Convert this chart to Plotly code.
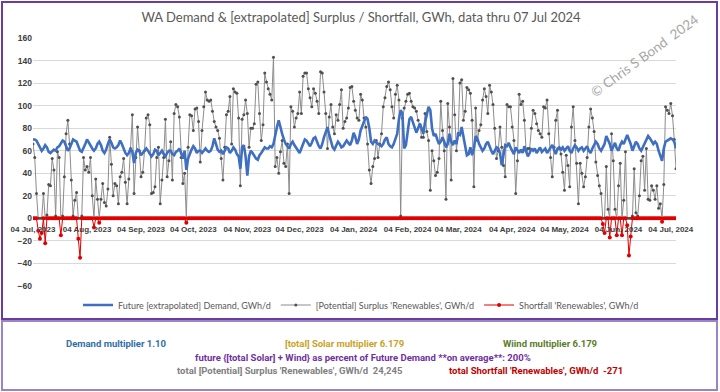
import pandas as pd
import plotly.graph_objects as go

# ---------------- data (daily, 04 Jul 2023 .. 07 Jul 2024) ----------------
start_date = "2023-07-04"
n_days = 370
dates = pd.date_range(start_date, periods=n_days, freq="D")

surplus = [
    66, 54, 22, 0, 0, 0, 22, 0, 3, 30,
    29, 53, 43, 2, 59, 54, 0, 2, 37, 75,
    87, 66, 34, 2, 16, 23, 0, 0, 2, 54,
    43, 46, 41, 54, 20, 0, 35, 17, 0, 17,
    31, 14, 11, 26, 72, 48, 20, 31, 29, 13,
    37, 41, 53, 32, 13, 35, 62, 92, 22, 54,
    81, 60, 37, 41, 60, 89, 92, 83, 22, 23,
    28, 54, 63, 13, 34, 54, 88, 37, 51, 68,
    34, 93, 101, 99, 90, 54, 31, 40, 0, 63,
    92, 91, 78, 97, 98, 86, 50, 78, 99, 112,
    105, 104, 105, 95, 86, 81, 78, 71, 53, 34,
    63, 92, 95, 108, 66, 115, 112,
    111, 89, 29, 88, 92, 105, 93, 63, 80, 80,
    84, 119, 121, 93, 69, 83, 129, 121, 115, 110,
    105, 143, 46, 54, 40, 59, 69, 49, 46, 66,
    22, 99, 95, 81, 89, 93, 112, 93, 126, 129,
    129, 115, 107, 99, 115, 111, 104, 93, 130, 129,
    112, 93, 62, 90, 101, 81, 75, 92, 87, 101,
    114, 80, 86, 89, 98, 116, 117, 104, 96, 89,
    87, 110, 105, 89, 81, 66, 43, 31, 46, 53,
    69, 54, 66, 75, 99, 107, 117, 121, 114, 99,
    89, 110, 118, 105, 2, 89, 98, 104, 110, 111,
    104, 99, 98, 95, 87, 83, 72, 72, 93, 77,
    69, 25, 60, 51, 38, 41, 53, 104, 78, 60,
    17,
    102, 81, 34, 124, 92, 60, 75, 120, 123, 87,
    95, 116, 114, 111, 87, 28, 98, 69, 78, 83,
    105, 115, 108, 93, 118, 112, 101, 80, 53, 60,
    81, 63, 47, 37, 101, 99, 99, 81, 69, 22,
    51, 110, 101, 104, 87, 60, 62, 62, 80, 96,
    93, 84, 78, 75, 72, 99, 98, 105, 75, 54,
    37, 63, 87, 96, 62, 57, 41, 25, 56, 47,
    28, 81, 99, 69, 49, 13, 49, 40, 28, 37,
    54, 81, 97, 89, 77, 50, 38, 29,
    22, 0, 0, 46, 8, 0, 75, 51, 8, 0,
    29, 49, 0, 16, 59, 0, 0, 0, 2, 44,
    5, 2, 20, 51, 55, 25, 62, 17, 16,
    29, 25, 17, 29, 9, 13, 0, 30, 99, 96,
    93, 102, 91, 70, 44,
]

# shortfall: day index -> value (all other days 0)
shortfall_days = [3, 4, 5, 7, 16, 26, 27, 35, 38, 88,
                  327, 328, 331, 335, 338, 341, 342, 343, 361]
shortfall_vals = [-11, -18, -13, -22, -15, -18, -35, -8, -4, -4,
                  -5, -13, -17, -15, -15, -6, -33, -16, -3]

demand = [
    70, 70, 69, 66, 62, 60, 62,
    65, 63, 59, 58, 60, 61, 60,
    63, 64, 67, 69, 68, 64, 60,
    62, 66, 70, 69, 68, 64, 60,
    59, 62, 66, 70, 67, 64, 62,
    60, 62, 66, 68, 65, 60, 58,
    61, 66, 70, 67, 63, 62, 63,
    65, 69, 66, 62, 58, 56, 58,
    62, 59, 49, 58, 61, 60, 56,
    58, 61, 62, 60, 58, 55, 57,
    61, 60, 56, 58, 60, 57, 55,
    58, 60, 60, 57, 56, 59, 60,
    62, 58, 53, 60, 43, 53, 58,
    61, 64, 62, 58, 60, 60, 58,
    60, 62, 60, 59, 60, 64, 71,
    66, 61, 59, 60, 57, 60, 63,
    62, 58, 60, 63, 61, 57, 55,
    44, 63, 65, 55, 38, 55, 60,
    58, 55, 53, 52, 56, 58, 60,
    63, 62, 62, 64, 63, 66, 75,
    81, 87, 80, 75, 70, 66, 64,
    62, 66, 68, 65, 63, 61, 58,
    62, 67, 70, 69, 66, 64, 67,
    71, 72, 68, 64, 62, 66, 72,
    76, 81, 74, 68, 63, 61, 64,
    68, 66, 63, 64, 67, 69, 67,
    65, 69, 76, 72, 66, 70, 78,
    82, 87, 90, 88, 80, 68, 66,
    69, 67, 66, 65, 64, 66, 70,
    72, 66, 64, 63, 66, 70, 75,
    88, 96, 93, 62, 65, 75, 88,
    90, 85, 79, 76, 80, 84, 80,
    75, 85, 93, 99, 96, 80, 73,
    75, 70, 66, 68, 72, 68, 63,
    66, 75, 68, 65, 69, 66, 75,
    74, 81, 72, 66, 56, 57, 63,
    56, 62, 73, 71, 66, 63, 60,
    62, 66, 68, 63, 60, 57, 60,
    63, 62, 58, 47, 56, 65, 64,
    67, 63, 60, 57, 63, 60, 58,
    61, 58, 64, 60, 55, 58, 62,
    60, 62, 58, 61, 63, 59, 61,
    62, 58, 60, 62, 65, 61, 57,
    62, 63, 61, 63, 60, 62, 64,
    60, 58, 62, 65, 63, 60, 62,
    63, 60, 62, 64, 60, 58, 62,
    65, 68, 66, 62, 60, 63, 66,
    73, 70, 66, 60, 64, 67, 62,
    60, 65, 68, 66, 70, 74, 70,
    66, 60, 64, 68, 66, 62, 60,
    63, 66, 70, 73, 71, 68, 66,
    68, 66, 60, 56, 51, 62, 68,
    69, 70, 71, 70, 68, 62,
]

shortfall = [0] * n_days
for d, v in zip(shortfall_days, shortfall_vals):
    shortfall[d] = v

tick_dates = pd.date_range("2023-07-04", "2024-07-04", freq=pd.DateOffset(months=1))

title_text = "WA Demand & [extrapolated] Surplus / Shortfall, GWh, data thru 07 Jul 2024"
series_names = ["Future [extrapolated] Demand, GWh/d",
                "[Potential] Surplus 'Renewables', GWh/d",
                "Shortfall 'Renewables', GWh/d"]

# ---------------- figure ----------------
W, H = 720, 392
L, R, T, B = 33, 44, 38, 106
pw, ph = W - L - R, H - T - B


def px_x(x):
    return (x - L) / pw


def px_y(y):
    return (H - B - y) / ph


fig = go.Figure()

fig.add_trace(go.Scatter(
    x=dates, y=surplus, name=series_names[1], mode="lines+markers",
    line=dict(color="#8c8c8c", width=1),
    marker=dict(color="#505050", size=3),
    legendrank=2,
))
fig.add_trace(go.Scatter(
    x=dates, y=shortfall, name=series_names[2], mode="lines+markers",
    line=dict(color="#e00000", width=1),
    marker=dict(color="#e00000", size=4),
    legendrank=3,
))
fig.add_trace(go.Scatter(
    x=dates, y=demand, name=series_names[0], mode="lines",
    line=dict(color="#3f6fc0", width=2.6),
    legendrank=1,
))

fig.update_layout(
    width=W, height=H,
    margin=dict(l=L, r=R, t=T, b=B),
    paper_bgcolor="white", plot_bgcolor="white",
    title=dict(text=title_text, x=px_x(361), xref="paper", xanchor="center",
               y=1 - 17 / H, yanchor="middle",
               font=dict(family="Lato", size=13, color="#595959")),
    showlegend=True,
    legend=dict(orientation="h", x=px_x(361), xanchor="center", y=px_y(305), yanchor="middle",
                font=dict(family="Lato", size=9, color="#595959"),
                itemwidth=30, traceorder="normal", bgcolor="rgba(0,0,0,0)"),
    xaxis=dict(type="date", range=[dates[0], dates[-1]],
               tickvals=tick_dates, tickformat="%d %b, %Y",
               anchor="free", position=60 / 220,
               showgrid=False, showline=False, zeroline=False, ticks="",
               ticklabelstandoff=5,
               tickfont=dict(family="Liberation Sans", size=8, color="#404040", weight="bold")),
    yaxis=dict(range=[-60, 160], dtick=20, showgrid=True, gridcolor="#d9d9d9", gridwidth=1,
               zeroline=False, showline=False, ticks="",
               tickfont=dict(family="Liberation Sans", size=8.5, color="#404040", weight="bold")),
)

# frames
fig.add_shape(type="rect", xref="paper", yref="paper",
              x0=px_x(2), x1=px_x(717), y0=px_y(319), y1=px_y(2),
              line=dict(color="#6a3d9a", width=2), layer="above")
fig.add_shape(type="rect", xref="paper", yref="paper",
              x0=px_x(2), x1=px_x(717), y0=px_y(390), y1=px_y(321),
              line=dict(color="#9b84c6", width=2), layer="above")

# watermark
fig.add_annotation(text="© Chris S Bond  2024", xref="paper", yref="paper",
                   x=px_x(644), y=px_y(56), showarrow=False, textangle=-36,
                   xanchor="center", yanchor="middle",
                   font=dict(family="Lato", size=13.5, color="#a6a6a6"))

# bottom info box text
info_font = "Roboto"
info = [
    ("Demand multiplier 1.10", 116, 343, "#2f6ea5"),
    ("[total] Solar multiplier 6.179", 344, 343, "#c9a227"),
    ("Wiind multiplier 6.179", 550, 343, "#5a7d2a"),
    ("future {[total Solar] + Wind} as percent of Future Demand **on average**: 200%", 363, 357, "#7030a0"),
    ("total [Potential] Surplus 'Renewables', GWh/d  24,245", 290, 370, "#808080"),
    ("total Shortfall 'Renewables', GWh/d  -271", 536, 370, "#c00000"),
]
for txt, x, y, col in info:
    fig.add_annotation(text=txt, xref="paper", yref="paper", x=px_x(x), y=px_y(y),
                       showarrow=False, xanchor="center", yanchor="middle",
                       font=dict(family=info_font, size=9.5, color=col, weight="bold"))

fig.write_html("out.html", config={"displayModeBar": False},
               post_script="document.body.style.margin='0';")
